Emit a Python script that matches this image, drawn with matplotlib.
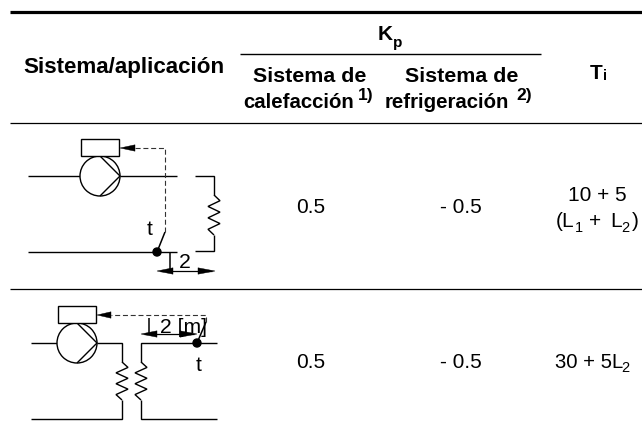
import matplotlib
matplotlib.use("Agg")
import matplotlib.pyplot as plt
from matplotlib.patches import Circle, Rectangle, Polygon

plt.rcParams['font.family'] = ['Liberation Sans', 'DejaVu Sans']

header_system = "Sistema/aplicación"
header_kp = ("K", "p")
header_ti = ("T", "i")
heating = ("Sistema de", "calefacción", "1)")
cooling = ("Sistema de", "refrigeración", "2)")
kp_heating = ["0.5", "0.5"]
kp_cooling = ["- 0.5", "- 0.5"]

INK = "#000000"
FS = 15.0
BF = 15.2
SUB = 10.5

fig = plt.figure(figsize=(6.42, 4.25), dpi=100)
ax = fig.add_axes([0, 0, 1, 1])
ax.set_xlim(0, 642)
ax.set_ylim(425, 0)
ax.axis("off")


def line(xs, ys, lw=1.0, **kw):
    kw.setdefault("color", INK)
    ax.plot(xs, ys, lw=lw, solid_capstyle="butt", solid_joinstyle="miter", **kw)


def txt(x, y, s, size=FS, weight="normal", ha="center"):
    ax.text(x, y, s, fontsize=size, fontweight=weight, ha=ha, va="baseline", color=INK, zorder=2)


def head(tip, base, y, half=3.2):
    ax.add_patch(Polygon([(tip, y), (base, y - half), (base, y + half)], closed=True,
                         fc=INK, ec=INK, lw=0.3, zorder=4))


def zigzag(x, y0, y1, amp=6, n=6):
    xs, ys = [x], [y0]
    step = (y1 - y0) / (n + 1)
    for i in range(n):
        xs.append(x + (amp if i % 2 == 0 else -amp))
        ys.append(y0 + step * (i + 0.5) + step * 0.5)
    xs.append(x)
    ys.append(y1)
    line(xs, ys, lw=1.0)


def pump(cx, cy, r=20):
    ax.add_patch(Circle((cx, cy), r, fc="white", ec=INK, lw=1.0, zorder=3))
    line([cx, cx + r, cx], [cy - r, cy, cy + r], lw=1.0, zorder=3)
    ax.add_patch(Rectangle((cx - 19, cy - 37), 38, 17, fc="white", ec=INK, lw=1.0, zorder=3))


# table rules
line([10, 642], [12, 12], lw=2.3)
line([240, 541], [54, 54], lw=1.0)
line([10, 642], [123, 123], lw=0.9)
line([10, 642], [289, 289], lw=0.9)

# header
txt(124, 73, header_system, size=16.1, weight="bold")
txt(378, 40, header_kp[0], weight="bold", ha="left")
txt(393, 47, header_kp[1], size=SUB + 0.5, weight="bold", ha="left")
txt(590, 79, header_ti[0], weight="bold", ha="left")
txt(603, 80, header_ti[1], size=SUB, weight="bold", ha="left")
txt(310, 82, heating[0], size=BF + 0.2, weight="bold")
txt(243, 108, heating[1], size=14.7, weight="bold", ha="left")
txt(358, 100, heating[2], size=12.5, weight="bold", ha="left")
txt(462, 82, cooling[0], size=BF + 0.2, weight="bold")
txt(385, 108, cooling[1], size=14.7, weight="bold", ha="left")
txt(516, 100, cooling[2], size=12.5, weight="bold", ha="left")

# values, row 1
txt(310.5, 213, kp_heating[0])
txt(461, 213, kp_cooling[0])
txt(597, 201, "10 + 5")
txt(556, 227, "(L", ha="left")
txt(575, 232, "1", size=SUB, ha="left")
txt(589, 227, "+", ha="left")
txt(610, 227, "L", ha="left")
txt(621, 232, "2", size=SUB, ha="left")
txt(632, 227, ")", ha="left")

# values, row 2
txt(555, 368, "30 + 5L", size=14.6, ha="left")
txt(621, 372, "2", size=SUB, ha="left")
txt(310.5, 368, kp_heating[1])
txt(461, 368, kp_cooling[1])

# diagram 1
line([28, 80], [176, 176])
line([120, 177], [176, 176])
line([195, 214, 214], [176, 176, 195])
zigzag(214, 195, 235)
line([214, 214, 195], [235, 251, 251])
line([28, 177], [252, 252])
pump(100, 176)
ax.add_patch(Circle((157, 252), 4, fc=INK, ec=INK, zorder=4))
line([157, 165], [252, 232], lw=1.1)
line([165, 165, 135], [232, 148, 148], lw=0.8, linestyle=(0, (4.5, 2.5)), color="#333333")
head(120, 135, 148)
txt(150, 235, "t")
line([170, 170], [252, 271], lw=1.1)
txt(185, 268, "2", size=FS + 0.3)
line([160, 212], [271, 271], lw=0.9)
head(157, 173, 271)
head(215, 198, 271)

# diagram 2
line([31, 57], [343, 343])
line([97, 122, 122], [343, 343, 362])
zigzag(122, 362, 400)
line([122, 122, 31], [400, 419, 419])
line([217, 141, 141], [343, 343, 362])
zigzag(141, 362, 400)
line([141, 141, 217], [400, 419, 419])
pump(77, 343)
ax.add_patch(Circle((197, 343), 4, fc=INK, ec=INK, zorder=4))
line([197, 206], [343, 322], lw=1.1)
line([206, 206, 111], [322, 315, 315], lw=0.8, linestyle=(0, (4.5, 2.5)), color="#333333")
head(97, 111, 315)
line([149, 149], [318, 334], lw=1.1)
txt(160, 333, "2 [m]", size=FS + 0.2, ha="left")
line([144, 194], [334, 334], lw=0.9)
head(141, 157, 334)
head(197, 180, 334)
txt(199, 371, "t")

fig.savefig("out.png", dpi=100)
